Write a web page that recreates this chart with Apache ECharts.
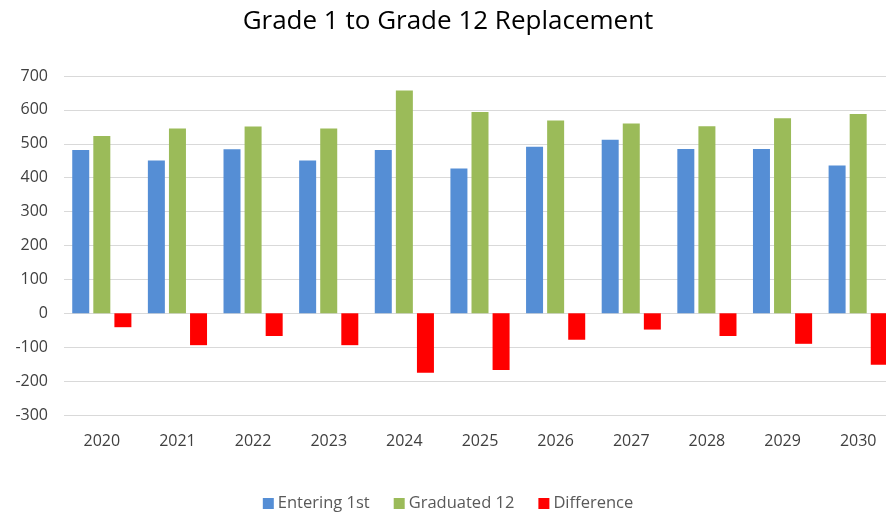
<!DOCTYPE html>
<html>
<head>
<meta charset="utf-8">
<script src="https://cdn.jsdelivr.net/npm/echarts@6/dist/echarts.min.js"></script>
<style>
  html, body { margin: 0; padding: 0; background: #fff; overflow: hidden; width: 886px; height: 514px; }
  /* 比窗口宽 10px，最后一组柱子像原图一样被右边截断 */
  #chart { width: 896px; height: 514px; }
</style>
</head>
<body>
<div id="chart"></div>
<script>
// 数据
var years = ['2020', '2021', '2022', '2023', '2024', '2025', '2026', '2027', '2028', '2029', '2030']
var entering = [482, 451, 484, 451, 482, 427, 491, 512, 485, 485, 436]
var graduated = [523, 545, 551, 545, 657, 594, 569, 560, 552, 575, 588]
var difference = [-41, -94, -67, -94, -175, -167, -78, -48, -67, -90, -152]

var font = '"Open Sans", Lato, sans-serif'
var chart = echarts.init(document.getElementById('chart'))

chart.setOption({
  animation: false,
  title: {
    text: 'Grade 1 to Grade 12 Replacement',
    left: 'center',
    top: 6,
    padding: [3, 15, 3, 5],
    textStyle: { fontFamily: font, fontSize: 26, fontWeight: 'normal', color: '#000' }
  },
  legend: {
    bottom: -3,
    left: 'center',
    padding: [5, 15, 5, 5],
    itemWidth: 11,
    itemHeight: 11,
    itemGap: 24,
    icon: 'rect',
    textStyle: { fontFamily: font, fontSize: 16.5, color: '#595959', padding: [0, 0, 0, -1] }
  },
  grid: { left: 64, top: 76, right: 0, bottom: 99 },
  xAxis: {
    type: 'category',
    data: years,
    axisLine: { show: false, onZero: false },
    axisTick: { show: false },
    axisLabel: { fontFamily: font, fontSize: 16, color: '#404040', margin: 18 }
  },
  yAxis: {
    type: 'value',
    min: -300,
    max: 700,
    interval: 100,
    axisLabel: { fontFamily: font, fontSize: 16, color: '#404040', margin: 16 },
    splitLine: { lineStyle: { color: '#d9d9d9', width: 1 } }
  },
  series: [
    { name: 'Entering 1st', type: 'bar', data: entering, barWidth: 17, barGap: '24%', itemStyle: { color: '#558ed5' } },
    { name: 'Graduated 12', type: 'bar', data: graduated, barWidth: 17, itemStyle: { color: '#9bbb59' } },
    { name: 'Difference', type: 'bar', data: difference, barWidth: 17, itemStyle: { color: '#ff0000' } }
  ]
})
</script>
</body>
</html>
